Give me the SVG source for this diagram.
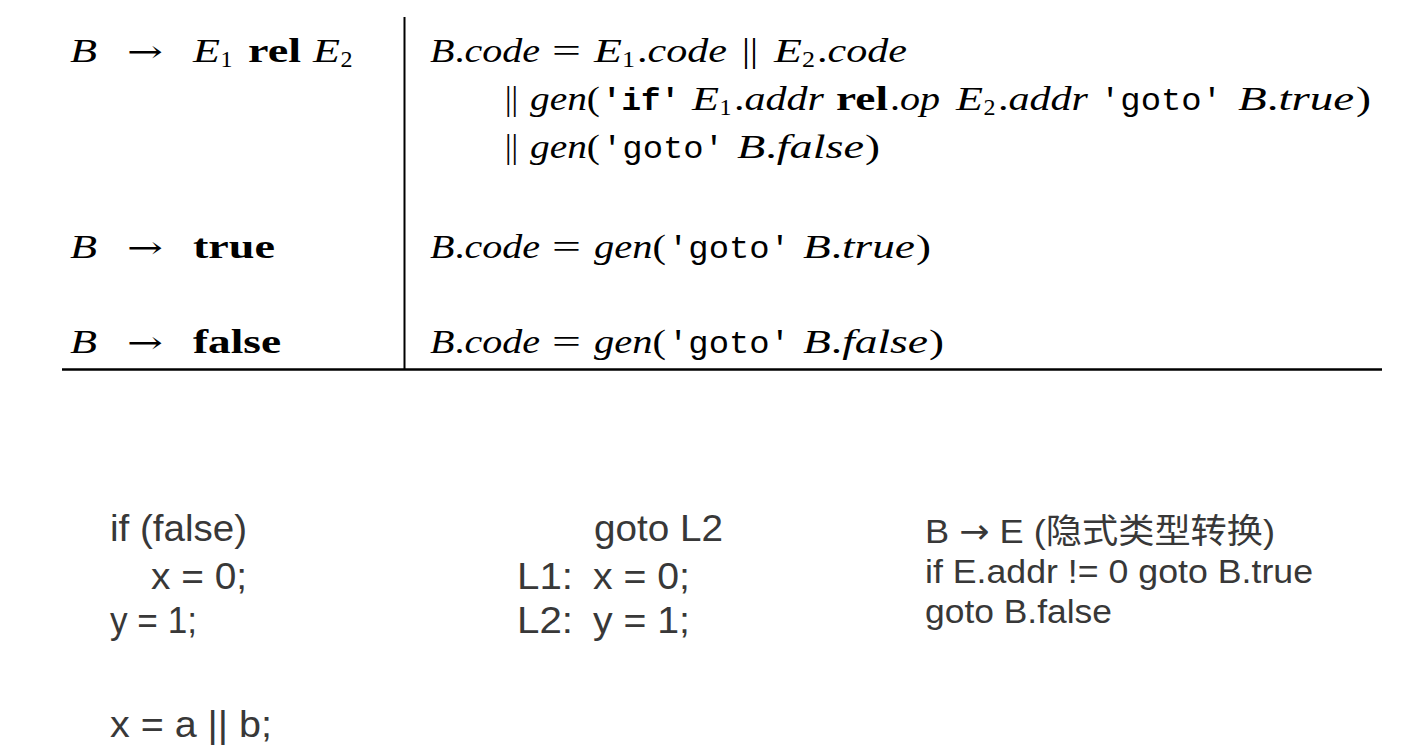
<svg xmlns="http://www.w3.org/2000/svg" width="1428" height="755" viewBox="0 0 1428 755">
<style>
text{font-family:"Liberation Serif","DejaVu Serif",serif;font-size:33px;fill:#000}
.it{font-style:italic}
.bf{font-weight:bold}
.tt{font-family:"Liberation Mono","DejaVu Sans Mono",monospace;font-size:31px}
.ttb{font-family:"Liberation Mono","DejaVu Sans Mono",monospace;font-size:31px;font-weight:bold}
.sub{font-size:23px}
.arr{font-family:"DejaVu Serif",serif;font-size:30px}
.sans{font-family:"Liberation Sans","Noto Sans CJK SC",sans-serif;fill:#383838;font-size:36px}
.sans2{font-family:"Liberation Sans","Noto Sans CJK SC",sans-serif;fill:#383838;font-size:34px}
.cjk{font-family:"Noto Sans CJK SC",sans-serif}
.sarr{font-family:"DejaVu Sans",sans-serif}
.rule{stroke:#000;fill:none}
</style>
<rect width="1428" height="755" fill="#fff"/>
<g id="table-rules">
<line class="rule" x1="404.5" y1="17" x2="404.5" y2="369" stroke-width="2"/>
<line class="rule" x1="62" y1="369.5" x2="1382" y2="369.5" stroke-width="2.5"/>
</g>
<g id="row1-left">
<text class="it" x="70" y="62" textLength="27" lengthAdjust="spacingAndGlyphs">B</text>
<text class="arr" x="127" y="62" textLength="36" lengthAdjust="spacingAndGlyphs">→</text>
<text class="it" x="193" y="62" textLength="27" lengthAdjust="spacingAndGlyphs">E</text>
<text class="sub" x="220.5" y="67" textLength="12" lengthAdjust="spacingAndGlyphs">1</text>
<text class="bf" x="248" y="62" textLength="53" lengthAdjust="spacingAndGlyphs">rel</text>
<text class="it" x="313" y="62" textLength="27" lengthAdjust="spacingAndGlyphs">E</text>
<text class="sub" x="340.5" y="67" textLength="12" lengthAdjust="spacingAndGlyphs">2</text>
</g>
<g id="row1-right">
<text x="430" y="62" textLength="110" lengthAdjust="spacingAndGlyphs"><tspan class="it">B</tspan>.<tspan class="it">code</tspan></text>
<text x="552" y="62" textLength="29" lengthAdjust="spacingAndGlyphs">=</text>
<text class="it" x="594" y="62" textLength="28" lengthAdjust="spacingAndGlyphs">E</text>
<text class="sub" x="622" y="67" textLength="13" lengthAdjust="spacingAndGlyphs">1</text>
<text x="637" y="62" textLength="90" lengthAdjust="spacingAndGlyphs">.<tspan class="it">code</tspan></text>
<text x="742" y="62" textLength="16" lengthAdjust="spacingAndGlyphs">||</text>
<text class="it" x="774" y="62" textLength="28" lengthAdjust="spacingAndGlyphs">E</text>
<text class="sub" x="802" y="67" textLength="13" lengthAdjust="spacingAndGlyphs">2</text>
<text x="817" y="62" textLength="90" lengthAdjust="spacingAndGlyphs">.<tspan class="it">code</tspan></text>
</g>
<g id="row1-line2">
<text x="505" y="110" textLength="13" lengthAdjust="spacingAndGlyphs">||</text>
<text x="530" y="110" textLength="70" lengthAdjust="spacingAndGlyphs"><tspan class="it">gen</tspan>(</text>
<text class="ttb" x="602" y="110" textLength="78" lengthAdjust="spacingAndGlyphs">'if'</text>
<text class="it" x="692" y="110" textLength="27" lengthAdjust="spacingAndGlyphs">E</text>
<text class="sub" x="719.5" y="115" textLength="12" lengthAdjust="spacingAndGlyphs">1</text>
<text x="734" y="110" textLength="90" lengthAdjust="spacingAndGlyphs">.<tspan class="it">addr</tspan></text>
<text class="bf" x="836" y="110" textLength="52" lengthAdjust="spacingAndGlyphs">rel</text>
<text x="890" y="110" textLength="50" lengthAdjust="spacingAndGlyphs">.<tspan class="it">op</tspan></text>
<text class="it" x="956" y="110" textLength="27" lengthAdjust="spacingAndGlyphs">E</text>
<text class="sub" x="983.5" y="115" textLength="12" lengthAdjust="spacingAndGlyphs">2</text>
<text x="998" y="110" textLength="90" lengthAdjust="spacingAndGlyphs">.<tspan class="it">addr</tspan></text>
<text class="tt" x="1100" y="110" textLength="122" lengthAdjust="spacingAndGlyphs">'goto'</text>
<text x="1238" y="110" textLength="116" lengthAdjust="spacingAndGlyphs"><tspan class="it">B</tspan>.<tspan class="it">true</tspan></text>
<text x="1356" y="110" textLength="15" lengthAdjust="spacingAndGlyphs">)</text>
</g>
<g id="row1-line3">
<text x="505" y="158" textLength="13" lengthAdjust="spacingAndGlyphs">||</text>
<text x="530" y="158" textLength="70" lengthAdjust="spacingAndGlyphs"><tspan class="it">gen</tspan>(</text>
<text class="tt" x="602" y="158" textLength="122" lengthAdjust="spacingAndGlyphs">'goto'</text>
<text x="737" y="158" textLength="127" lengthAdjust="spacingAndGlyphs"><tspan class="it">B</tspan>.<tspan class="it">false</tspan></text>
<text x="865" y="158" textLength="15" lengthAdjust="spacingAndGlyphs">)</text>
</g>
<g id="row2">
<text class="it" x="70" y="258" textLength="27" lengthAdjust="spacingAndGlyphs">B</text>
<text class="arr" x="127" y="258" textLength="36" lengthAdjust="spacingAndGlyphs">→</text>
<text class="bf" x="193" y="258" textLength="82" lengthAdjust="spacingAndGlyphs">true</text>
<text x="430" y="258" textLength="110" lengthAdjust="spacingAndGlyphs"><tspan class="it">B</tspan>.<tspan class="it">code</tspan></text>
<text x="552" y="258" textLength="29" lengthAdjust="spacingAndGlyphs">=</text>
<text x="594" y="258" textLength="72" lengthAdjust="spacingAndGlyphs"><tspan class="it">gen</tspan>(</text>
<text class="tt" x="668" y="258" textLength="122" lengthAdjust="spacingAndGlyphs">'goto'</text>
<text x="803" y="258" textLength="112" lengthAdjust="spacingAndGlyphs"><tspan class="it">B</tspan>.<tspan class="it">true</tspan></text>
<text x="916" y="258" textLength="15" lengthAdjust="spacingAndGlyphs">)</text>
</g>
<g id="row3">
<text class="it" x="70" y="353" textLength="27" lengthAdjust="spacingAndGlyphs">B</text>
<text class="arr" x="127" y="353" textLength="36" lengthAdjust="spacingAndGlyphs">→</text>
<text class="bf" x="193" y="353" textLength="88" lengthAdjust="spacingAndGlyphs">false</text>
<text x="430" y="353" textLength="110" lengthAdjust="spacingAndGlyphs"><tspan class="it">B</tspan>.<tspan class="it">code</tspan></text>
<text x="552" y="353" textLength="29" lengthAdjust="spacingAndGlyphs">=</text>
<text x="594" y="353" textLength="72" lengthAdjust="spacingAndGlyphs"><tspan class="it">gen</tspan>(</text>
<text class="tt" x="668" y="353" textLength="122" lengthAdjust="spacingAndGlyphs">'goto'</text>
<text x="803" y="353" textLength="125" lengthAdjust="spacingAndGlyphs"><tspan class="it">B</tspan>.<tspan class="it">false</tspan></text>
<text x="929" y="353" textLength="15" lengthAdjust="spacingAndGlyphs">)</text>
</g>
<g id="code-left">
<text class="sans" x="110" y="541" textLength="137" lengthAdjust="spacingAndGlyphs">if (false)</text>
<text class="sans" x="151" y="589" textLength="96" lengthAdjust="spacingAndGlyphs">x = 0;</text>
<text class="sans" x="110" y="633" textLength="87" lengthAdjust="spacingAndGlyphs">y = 1;</text>
<text class="sans" x="110" y="737" textLength="162" lengthAdjust="spacingAndGlyphs">x = a || b;</text>
</g>
<g id="code-middle">
<text class="sans" x="594" y="541" textLength="129" lengthAdjust="spacingAndGlyphs">goto L2</text>
<text class="sans" x="517" y="589" textLength="56" lengthAdjust="spacingAndGlyphs">L1:</text>
<text class="sans" x="593" y="589" textLength="97" lengthAdjust="spacingAndGlyphs">x = 0;</text>
<text class="sans" x="517" y="633" textLength="56" lengthAdjust="spacingAndGlyphs">L2:</text>
<text class="sans" x="593" y="633" textLength="97" lengthAdjust="spacingAndGlyphs">y = 1;</text>
</g>
<g id="code-right">
<text class="sans2" x="925" y="543" textLength="350" lengthAdjust="spacingAndGlyphs">B <tspan class="sarr">→</tspan> E (<tspan class="cjk">隐式类型转换</tspan>)</text>
<text class="sans2" x="925" y="583" textLength="388" lengthAdjust="spacingAndGlyphs">if E.addr != 0 goto B.true</text>
<text class="sans2" x="925" y="623" textLength="187" lengthAdjust="spacingAndGlyphs">goto B.false</text>
</g>
</svg>
